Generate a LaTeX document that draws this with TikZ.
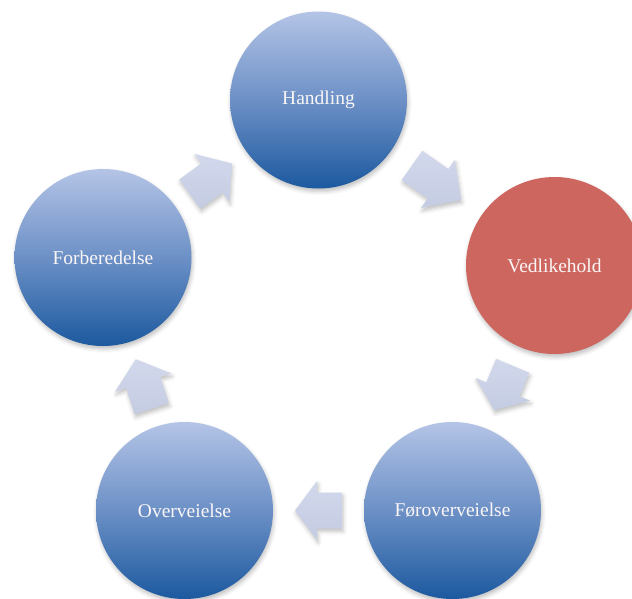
\documentclass[tikz,border=0pt]{standalone}
\usepackage{fontspec}
\setmainfont{Liberation Serif}
\usetikzlibrary{calc,shadows.blur}

\definecolor{blueTop}{RGB}{180,196,230}
\definecolor{blueMid}{RGB}{108,144,198}
\definecolor{blueBot}{RGB}{28,89,159}
\definecolor{stageRed}{RGB}{205,102,94}
\definecolor{arrowTop}{RGB}{210,216,236}
\definecolor{arrowBot}{RGB}{196,204,226}
\definecolor{labelWhite}{RGB}{250,246,246}

\tikzset{
  softshadow/.style={blur shadow={shadow xshift=1pt, shadow yshift=-3pt,
      shadow blur radius=4pt, shadow opacity=25}},
  stage/.style={circle, minimum size=177pt, inner sep=0pt, text=labelWhite,
      font=\fontsize{19.5}{23}\selectfont, softshadow},
  bluestage/.style={stage, top color=blueTop, bottom color=blueBot, middle color=blueMid},
  redstage/.style={stage, fill=stageRed},
  cyclearrow/.style={top color=arrowTop, bottom color=arrowBot, softshadow},
}

\begin{document}
\begin{tikzpicture}[x=1pt,y=-1pt]
  \useasboundingbox (0,0) rectangle (632,598);
  \clip (0,0) rectangle (632,598);

  % the five stages of the cycle
  \node[bluestage] (hand) at (318.5,100)   {\raisebox{-2pt}{Handling}};
  \node[redstage]  (vedl) at (554.5,265.5) {\raisebox{-2pt}{Vedlikehold}};
  \node[bluestage] (foro) at (452.5,510.5) {\raisebox{-2pt}{Føroverveielse}};
  \node[bluestage] (over) at (184.5,510.5) {\raisebox{-2pt}{Overveielse}};
  \node[bluestage] (forb) at (103,257.5)   {\raisebox{-2pt}{Forberedelse}};

  % block arrows halfway between consecutive stages
  \foreach \a/\b/\len in {hand/vedl/60, vedl/foro/48, foro/over/47, over/forb/52, forb/hand/52}{
    \pgfmathanglebetweenpoints{\pgfpointanchor{\a}{center}}{\pgfpointanchor{\b}{center}}
    \let\arrowangle\pgfmathresult
    \pgfmathsetmacro\hl{0.47*\len}
    \pgfmathsetmacro\hb{\len/2-\hl}
    \begin{scope}[shift={($(\a)!0.5!(\b)$)}, rotate=\arrowangle, x=1pt, y=1pt]
      \path[cyclearrow] (-\len/2,-18) -- (\hb,-18) -- (\hb,-29.5) -- (\len/2,0)
        -- (\hb,29.5) -- (\hb,18) -- (-\len/2,18) -- cycle;
    \end{scope}
  }
\end{tikzpicture}
\end{document}
